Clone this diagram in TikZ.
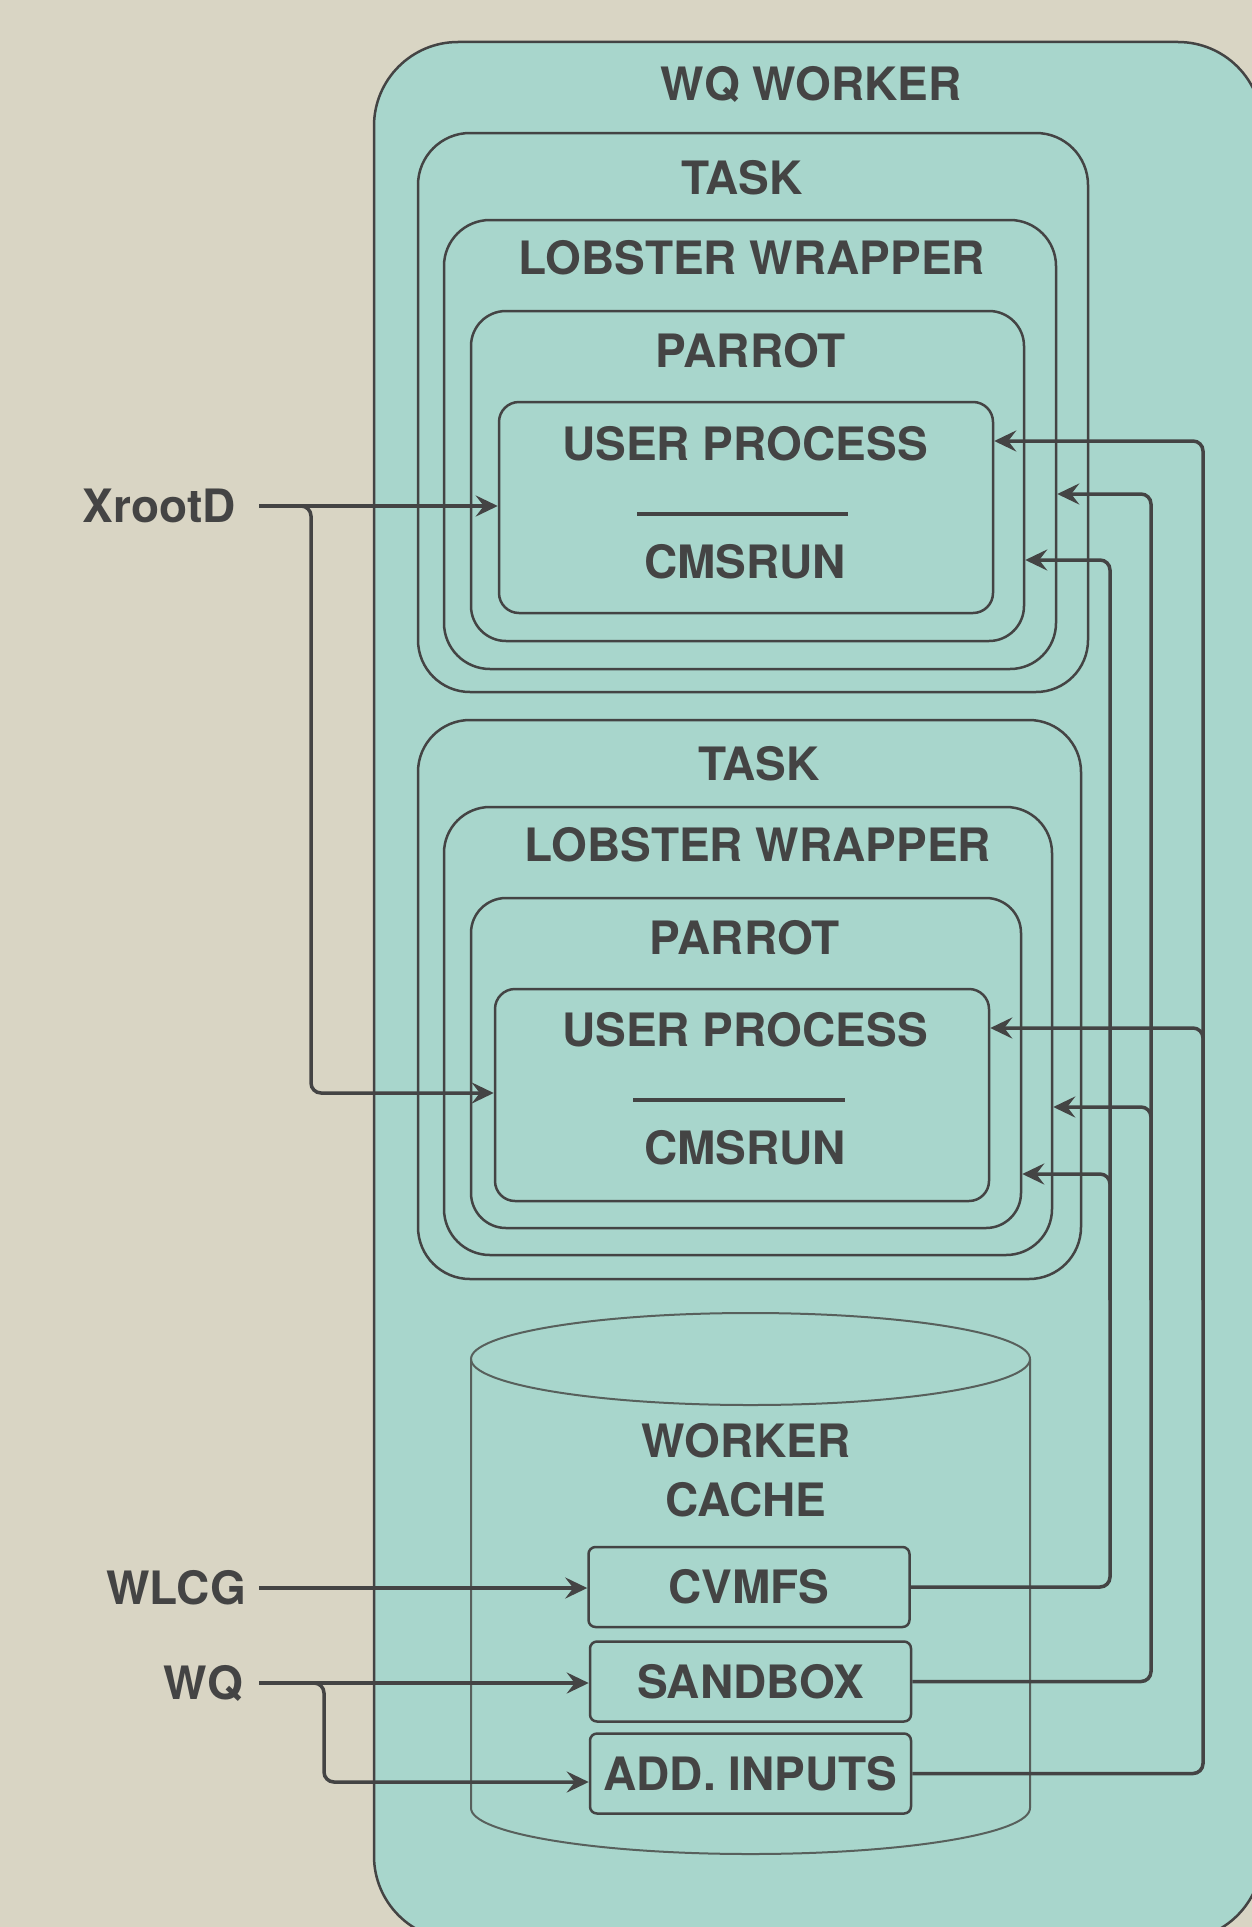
\documentclass[tikz,border=0pt]{standalone}
\usepackage{fontspec}
\setmainfont{TeX Gyre Heros}
\usetikzlibrary{arrows.meta}

\definecolor{bgcol}{RGB}{217,213,196}
\definecolor{tealcol}{RGB}{168,214,204}
\definecolor{inkcol}{RGB}{68,68,68}
\definecolor{cylcol}{RGB}{88,96,92}

\begin{document}
\begin{tikzpicture}[x=1pt, y=-1pt,
    box/.style={draw=inkcol, fill=tealcol, line width=2.5pt, inner sep=0pt, rounded corners=#1},
    title/.style={text=inkcol, font=\bfseries\fontsize{46}{50}\selectfont,
                  inner sep=0pt, text height=33pt, text depth=0pt},
    store/.style={box=7pt, title, minimum width=321pt, minimum height=80pt},
    feed/.style={draw=inkcol, line width=3.5pt, rounded corners=10pt,
                 -{Stealth[length=22pt, width=21pt, inset=8pt]}},
    sepline/.style={draw=inkcol, line width=4.5pt},
    cyl/.style={draw=cylcol, line width=2pt}]

  \useasboundingbox (0,0) rectangle (1251,1927);
  \clip (-6,-6) rectangle (1257,1933);
  \fill[bgcol] (-6,-6) rectangle (1257,1933);

  % worker
  \node[box=84pt, minimum width=888pt, minimum height=1898pt] (worker) at (818,991) {};
  \node[title] (workerlbl) at (811,84) {WQ WORKER};

  % first task
  \node[box=52pt, minimum width=670pt, minimum height=559pt] (task1) at (753,412.5) {};
  \node[title] (task1lbl) at (742,178) {TASK};
  \node[box=46pt, minimum width=612pt, minimum height=449pt] (wrap1) at (750,444.5) {};
  \node[title] (wrap1lbl) at (752,258) {LOBSTER WRAPPER};
  \node[box=35pt, minimum width=553pt, minimum height=330pt] (parrot1) at (747.5,476) {};
  \node[title] (parrot1lbl) at (751,351) {PARROT};
  \node[box=20pt, minimum width=494pt, minimum height=211pt] (user1) at (746,507.5) {};
  \node[title] (user1lbl) at (745,444) {USER PROCESS};
  \node[title] (cms1lbl) at (745,562) {CMSRUN};
  \draw[sepline] (637,514) -- (848,514);

  % second task
  \node[box=52pt, minimum width=663pt, minimum height=559pt] (task2) at (749.5,999.5) {};
  \node[title] (task2lbl) at (759,764) {TASK};
  \node[box=46pt, minimum width=608pt, minimum height=448pt] (wrap2) at (748,1031) {};
  \node[title] (wrap2lbl) at (758,845) {LOBSTER WRAPPER};
  \node[box=35pt, minimum width=550pt, minimum height=330pt] (parrot2) at (746,1063) {};
  \node[title] (parrot2lbl) at (745,938) {PARROT};
  \node[box=20pt, minimum width=494pt, minimum height=212pt] (user2) at (742,1095) {};
  \node[title] (user2lbl) at (745,1030) {USER PROCESS};
  \node[title] (cms2lbl) at (745,1148) {CMSRUN};
  \draw[sepline] (633,1100) -- (845,1100);

  % worker cache
  \draw[cyl] (471,1359) -- (471,1808)
     arc[start angle=180, end angle=360, x radius=279.5pt, y radius=46pt] -- (1030,1359);
  \draw[cyl] (750.5,1359) ellipse [x radius=279.5pt, y radius=46pt];
  \node[title] (cachelbl) at (746,1441) {WORKER};
  \node[title] (cachelbl2) at (746,1500) {CACHE};

  \node[store] (cvmfs) at (749,1587) {CVMFS};
  \node[store] (sandbox) at (750.5,1681.5) {SANDBOX};
  \node[store] (addin) at (750.5,1773.5) {ADD. INPUTS};

  % sources
  \node[title, anchor=east, inner xsep=23pt] (xrootd) at (259,506) {XrootD};
  \node[title, anchor=east, inner xsep=13pt] (wlcg) at (259,1588) {WLCG};
  \node[title, anchor=east, inner xsep=16pt] (wq) at (259,1683) {WQ};

  \coordinate (xbus) at (311,800);
  \coordinate (wqbus) at (324,1740);
  \coordinate (cvbus) at (1110,1300);
  \coordinate (sbbus) at (1151,1300);
  \coordinate (aibus) at (1203,1300);

  \draw[feed] (xrootd.east) -- (user1.west |- xrootd.east);
  \draw[feed] (xrootd.east) -| (xbus) |- (user2.west |- 0,1093);
  \draw[feed] (wlcg.east) -- (cvmfs.west |- wlcg.east);
  \draw[feed] (wq.east) -- (sandbox.west |- wq.east);
  \draw[feed] (wq.east) -| (wqbus) |- (addin.west |- 0,1782);

  \draw[feed] (cvmfs.east) -| (1110,560) -- (parrot1.east |- 0,560);
  \draw[feed] (cvbus) |- (parrot2.east |- 0,1174);
  \draw[feed] (sandbox.east) -| (1151,494) -- (wrap1.east |- 0,494);
  \draw[feed] (sbbus) |- (wrap2.east |- 0,1107);
  \draw[feed] (addin.east) -| (1203,441) -- (user1.east |- 0,441);
  \draw[feed] (aibus) |- (user2.east |- 0,1028);

\end{tikzpicture}
\end{document}
